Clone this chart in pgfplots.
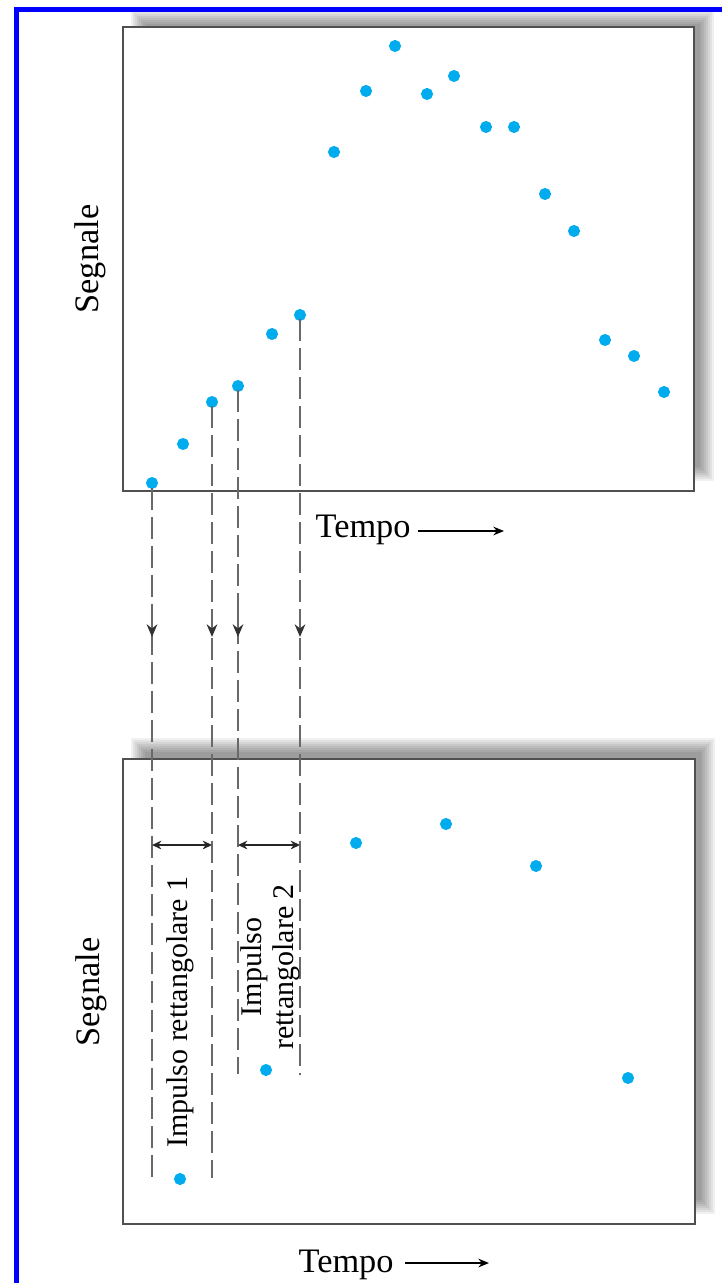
\documentclass[border=0pt]{standalone}
\usepackage{fontspec}
\setmainfont{Liberation Serif}
\usepackage{pgfplots}
\pgfplotsset{compat=1.18}
\usetikzlibrary{arrows.meta}
\definecolor{dotblue}{RGB}{0,172,238}
\definecolor{boxgray}{RGB}{80,80,80}
\definecolor{dashgray}{RGB}{105,105,105}
\definecolor{frameblue}{RGB}{0,0,255}

\begin{document}
\begin{tikzpicture}
\useasboundingbox (0pt,0pt) rectangle (216.6pt,-384.9pt);
% 1 px of the reference = 0.3pt, y downwards
\begin{scope}[x=0.3pt,y=-0.3pt]
  \foreach \i in {0,...,7} {
    \fill[black,opacity=0.06] (131+2*\i, 10+2*\i) rectangle (714-2*\i, 481-2*\i);
    \fill[black,opacity=0.06] (131+2*\i, 738+2*\i) rectangle (715-2*\i, 1214-2*\i);
  }
  \fill[frameblue] (14,7) rectangle (19,1283);
  \fill[frameblue] (14,7) rectangle (722,12);
\end{scope}

% ---------- top panel ----------
\begin{axis}[at={(36.9pt,-147.3pt)}, anchor=south west, scale only axis,
  width=171.3pt, height=139.2pt,
  xmin=123, xmax=694, ymin=0, ymax=464,
  xtick=\empty, ytick=\empty,
  axis line style={boxgray, line width=0.6pt},
  axis background/.style={fill=white}, clip=false]
\addplot[only marks, mark=*, mark size=1.6pt, color=dotblue, mark options={draw=dotblue, fill=dotblue}] coordinates {
 (152,8) (183,47) (212,89) (238,105) (272,157) (300,176)
 (334,339) (366,400) (395,445) (427,397) (454,415) (486,364)
 (514,364) (545,297) (574,260) (605,151) (634,135) (664,99)
};
\end{axis}

% ---------- bottom panel ----------
\begin{axis}[at={(36.9pt,-367.2pt)}, anchor=south west, scale only axis,
  width=171.6pt, height=139.5pt,
  xmin=123, xmax=695, ymin=0, ymax=465,
  xtick=\empty, ytick=\empty,
  axis line style={boxgray, line width=0.6pt},
  axis background/.style={fill=white}, clip=false]
% dashed guide lines (bottom-axis units: y = 1224 - pixel row)
\draw[dashgray, line width=0.75pt, dash pattern=on 6.6pt off 2.1pt] (axis cs:152,736) -- (axis cs:152,46);
\draw[dashgray, line width=0.75pt, dash pattern=on 6.6pt off 2.1pt] (axis cs:212,818) -- (axis cs:212,46);
\draw[dashgray, line width=0.75pt, dash pattern=on 6.6pt off 2.1pt] (axis cs:238,834) -- (axis cs:238,150);
\draw[dashgray, line width=0.75pt, dash pattern=on 6.6pt off 2.1pt] (axis cs:300,905) -- (axis cs:300,149);
\draw[dashgray, line width=0.75pt, -{Stealth[length=3.8pt,width=3.2pt,color=black!80]}] (axis cs:152,612) -- (axis cs:152,587);
\draw[dashgray, line width=0.75pt, -{Stealth[length=3.8pt,width=3.2pt,color=black!80]}] (axis cs:212,612) -- (axis cs:212,587);
\draw[dashgray, line width=0.75pt, -{Stealth[length=3.8pt,width=3.2pt,color=black!80]}] (axis cs:238,612) -- (axis cs:238,587);
\draw[dashgray, line width=0.75pt, -{Stealth[length=3.8pt,width=3.2pt,color=black!80]}] (axis cs:300,612) -- (axis cs:300,587);
\draw[black!85, line width=0.5pt, {Stealth[length=2.8pt,width=2.6pt]}-{Stealth[length=2.8pt,width=2.6pt]}] (axis cs:152,379) -- (axis cs:212,379);
\draw[black!85, line width=0.5pt, {Stealth[length=2.8pt,width=2.6pt]}-{Stealth[length=2.8pt,width=2.6pt]}] (axis cs:238,379) -- (axis cs:300,379);
\node[rotate=90, font=\fontsize{9}{10}\selectfont, inner sep=0pt] at (axis cs:180,212) {Impulso rettangolare 1};
\node[rotate=90, font=\fontsize{9}{9.6}\selectfont, align=center, inner sep=0pt] at (axis cs:270,257) {Impulso\\rettangolare 2};
\addplot[only marks, mark=*, mark size=1.6pt, color=dotblue, mark options={draw=dotblue, fill=dotblue}] coordinates {
 (180,45) (266,154) (356,381) (446,400) (536,358) (628,146)
};
\end{axis}

\begin{scope}[x=0.3pt,y=-0.3pt]
  \node[rotate=90, font=\fontsize{10.3}{12}\selectfont, inner sep=0pt] at (90,259) {Segnale};
  \node[rotate=90, font=\fontsize{10.3}{12}\selectfont, inner sep=0pt] at (91,992) {Segnale};
  \node[anchor=base west, font=\fontsize{10.3}{12}\selectfont, inner sep=0pt] at (315,537) {Tempo};
  \draw[black, line width=0.5pt, -{Stealth[length=3.2pt,width=2.6pt]}] (418,531) -- (504,531);
  \node[anchor=base west, font=\fontsize{10.3}{12}\selectfont, inner sep=0pt] at (298,1272) {Tempo};
  \draw[black, line width=0.5pt, -{Stealth[length=3.2pt,width=2.6pt]}] (405,1263) -- (489,1263);
\end{scope}
\end{tikzpicture}
\end{document}
